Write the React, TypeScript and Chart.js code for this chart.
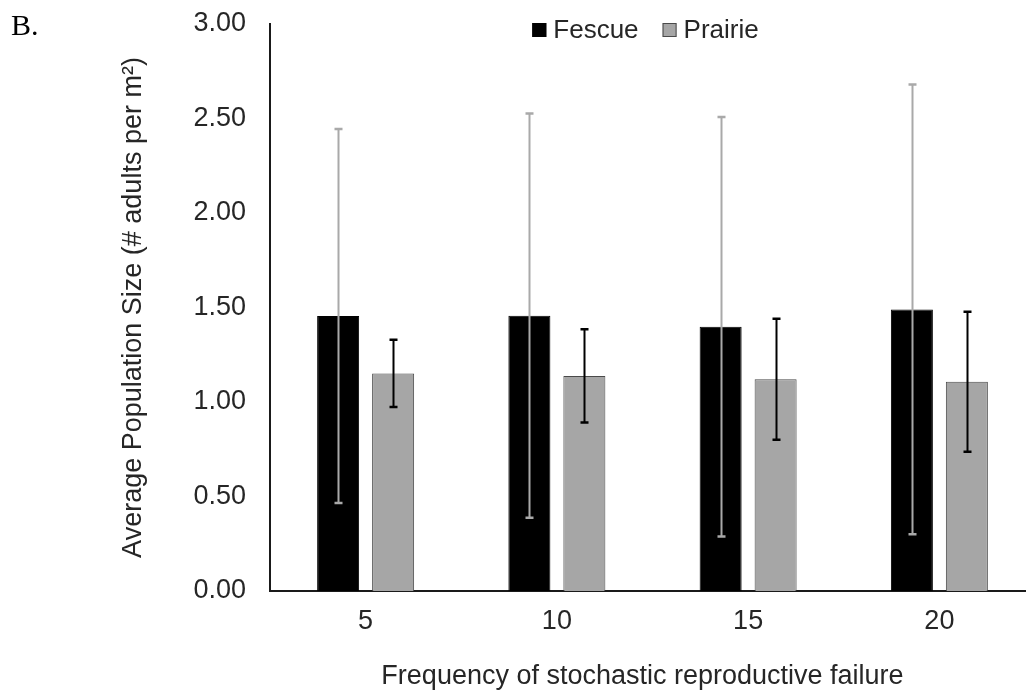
import React, { useEffect, useRef } from 'react';
import { Chart, registerables } from 'chart.js';

Chart.register(...registerables);

// ---- data ----
const categories = ['5', '10', '15', '20'];
const seriesNames = ['Fescue', 'Prairie'];
const fescueMeans = [1.455, 1.457, 1.398, 1.49];
const fescueErrors = [0.99, 1.07, 1.11, 1.19];
const prairieMeans = [1.151, 1.138, 1.12, 1.107];
const prairieErrors = [0.178, 0.247, 0.32, 0.37];
const yMin = 0;
const yMax = 3;
const yStep = 0.5;
const xTitle = 'Frequency of stochastic reproductive failure';
const yTitle = 'Average Population Size (# adults per m\u00B2)';
const panelLabel = 'B.';

const FONT = "'Liberation Sans', Arial, sans-serif";
const TEXT = '#262626';

const errorBarPlugin = {
  id: 'errorBars',
  afterDatasetsDraw(chart: any) {
    const { ctx } = chart;
    const yScale = chart.scales.y;
    chart.data.datasets.forEach((ds: any, i: number) => {
      const meta = chart.getDatasetMeta(i);
      if (!meta || meta.hidden) return;
      meta.data.forEach((bar: any, j: number) => {
        const m = ds.data[j];
        const e = ds.errors[j];
        const x = Math.round(bar.x) + 0.5;
        const yt = yScale.getPixelForValue(m + e);
        const yb = yScale.getPixelForValue(m - e);
        ctx.save();
        ctx.strokeStyle = ds.errorColor;
        ctx.lineWidth = 2;
        ctx.beginPath();
        ctx.moveTo(x, yt);
        ctx.lineTo(x, yb);
        ctx.stroke();
        ctx.lineWidth = 2.5;
        ctx.beginPath();
        ctx.moveTo(x - 4, yt);
        ctx.lineTo(x + 4, yt);
        ctx.moveTo(x - 4, yb);
        ctx.lineTo(x + 4, yb);
        ctx.stroke();
        ctx.restore();
      });
    });
  },
};

const legendAndTitlePlugin = {
  id: 'customLegend',
  afterDraw(chart: any) {
    const { ctx, chartArea } = chart;
    const box = 14;
    const gapBoxText = 7;
    const gapItems = 24;
    ctx.save();
    ctx.font = `26px ${FONT}`;
    ctx.textBaseline = 'middle';
    ctx.textAlign = 'left';
    const items = chart.data.datasets.map((ds: any) => ({
      label: ds.label,
      fill: ds.backgroundColor,
      stroke: ds.borderColor,
      w: ctx.measureText(ds.label).width,
    }));
    let total = 0;
    items.forEach((it: any, k: number) => {
      total += box + gapBoxText + it.w + (k < items.length - 1 ? gapItems : 0);
    });
    const cx = (chartArea.left + chartArea.right) / 2 - 7;
    let x = cx - total / 2;
    const cy = 30;
    items.forEach((it: any) => {
      ctx.fillStyle = it.fill;
      ctx.fillRect(x, cy - box / 2, box, box);
      ctx.strokeStyle = it.stroke;
      ctx.lineWidth = 1;
      ctx.strokeRect(x + 0.5, cy - box / 2 + 0.5, box - 1, box - 1);
      ctx.fillStyle = TEXT;
      ctx.fillText(it.label, x + box + gapBoxText, cy + 1);
      x += box + gapBoxText + it.w + gapItems;
    });

    // x-axis title
    ctx.font = `27px ${FONT}`;
    ctx.textAlign = 'center';
    ctx.textBaseline = 'middle';
    ctx.fillStyle = TEXT;
    ctx.fillText(xTitle, (chartArea.left + chartArea.right) / 2 - 10, chartArea.bottom + 86);
    ctx.restore();
  },
};

export default function App() {
  const ref = useRef<HTMLCanvasElement | null>(null);

  useEffect(() => {
    if (!ref.current) return;
    const chart = new Chart(ref.current, {
      type: 'bar',
      data: {
        labels: categories,
        datasets: [
          {
            label: seriesNames[0],
            data: fescueMeans,
            errors: fescueErrors,
            errorColor: '#a9a9a9',
            backgroundColor: '#000000',
            borderColor: '#000000',
            borderWidth: 1,
            barPercentage: 0.764,
            categoryPercentage: 0.575,
          } as any,
          {
            label: seriesNames[1],
            data: prairieMeans,
            errors: prairieErrors,
            errorColor: '#000000',
            backgroundColor: '#a6a6a6',
            borderColor: '#4a4a4a',
            borderWidth: 1,
            barPercentage: 0.764,
            categoryPercentage: 0.575,
          } as any,
        ],
      },
      options: {
        responsive: false,
        animation: false,
        devicePixelRatio: 1,
        layout: { padding: { top: 24, right: 5, left: 0, bottom: 0 } },
        plugins: {
          legend: { display: false },
          tooltip: { enabled: false },
        },
        scales: {
          x: {
            grid: { display: false, drawTicks: false },
            border: { display: true, color: '#1a1a1a', width: 2 },
            ticks: { color: TEXT, font: { family: FONT, size: 27 }, padding: 14 },
            title: { display: false },
            afterFit(scale: any) {
              scale.height = 103;
              scale.paddingLeft = 0;
              scale.paddingRight = 0;
            },
          },
          y: {
            min: yMin,
            max: yMax,
            grid: { display: false, drawTicks: false },
            border: { display: true, color: '#1a1a1a', width: 2 },
            ticks: {
              stepSize: yStep,
              color: TEXT,
              font: { family: FONT, size: 27 },
              padding: 24,
              callback: (v: any) => Number(v).toFixed(2),
            },
            title: {
              display: true,
              text: yTitle,
              color: TEXT,
              font: { family: FONT, size: 27 },
              padding: { top: 117, bottom: 0 },
            },
            afterFit(scale: any) {
              scale.width = 270;
              scale.paddingTop = 0;
              scale.paddingBottom = 0;
            },
          },
        },
      },
      plugins: [errorBarPlugin, legendAndTitlePlugin],
    });
    return () => chart.destroy();
  }, []);

  return (
    <div
      style={{
        position: 'fixed',
        left: 0,
        top: 0,
        width: 1026,
        height: 694,
        overflow: 'hidden',
        background: '#ffffff',
      }}
    >
      <canvas ref={ref} width={1040} height={694} style={{ display: 'block' }} />
      <div
        style={{
          position: 'absolute',
          left: 11,
          top: 10,
          fontFamily: "'Liberation Serif', 'Times New Roman', serif",
          fontSize: 30,
          lineHeight: '30px',
          color: '#000',
        }}
      >
        {panelLabel}
      </div>
    </div>
  );
}
